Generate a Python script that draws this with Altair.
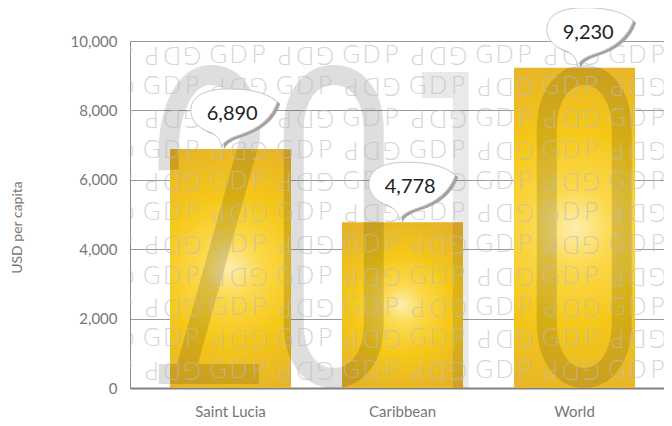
import altair as alt
import pandas as pd

# ---------------- data ----------------
categories = ["Saint Lucia", "Caribbean", "World"]
values = [6890, 4778, 9230]
value_labels = ["6,890", "4,778", "9,230"]
y_ticks = [0, 2000, 4000, 6000, 8000, 10000]
y_title = "USD per capita"

# decorative watermark ("GDP" pattern rows, in y-axis units) and big year
pattern_rows = [9600, 8690, 7780, 6870, 5970, 5060, 4150, 3240, 2330, 1430, 520]
pattern_cols = [-1, 0, 1, 2, 3, 4, 5, 6, 7, 8]
pattern_word = ["G", "D", "P"]
pattern_letter_offsets = [-0.3, 0.0, 0.3]
year_anchor_category = "Caribbean"
year_anchor_value = 0

W, H = 534, 347
ANCHOR_X, ANCHOR_Y = 402.5, 388.0  # pixel position of the year anchor (for shape design)


def rel(path, ax=ANCHOR_X, ay=ANCHOR_Y):
    out = []
    for tok in path.split():
        if "," in tok:
            a, b = tok.split(",")
            out.append(f"{float(a) - ax:.1f},{float(b) - ay:.1f}")
        else:
            out.append(tok)
    return " ".join(out)


digits_stroke_path = rel(
    "M 160,170 C 157,112 175,75 202,75 C 228,75 243,100 241,140 L 176,374 "
    "M 150,374 L 250,374 "
    "M 285,130 C 285,95 302,75 325,75 C 348,75 365,95 365,130 L 365,323 "
    "C 365,358 348,378 325,378 C 302,378 285,358 285,323 Z "
    "M 538,130 C 538,95 555,75 575.5,75 C 596,75 613,95 613,130 L 613,323 "
    "C 613,358 596,378 575.5,378 C 555,378 538,358 538,323 Z"
)
digit_one_path = rel("M 413,72 L 460,72 L 460,388 L 444,388 L 444,98 L 413,98 Z")

bubble_path = ("M -12,-2 C -12,-8 -16,-14 -24,-17 C -38,-22 -44,-32 -42,-42 "
               "C -40,-54 -26,-60 -5,-60 C 15,-60 33,-57 44,-47 "
               "C 39,-32 26,-20 6,-14 C -3,-11 -9,-8 -12,-2 Z")
shadow_path = rel(bubble_path, -3, -2)

df = pd.DataFrame({"cat": categories, "value": values, "label": value_labels})
anchor = pd.DataFrame({"cat": [year_anchor_category], "value": [year_anchor_value]})

letters = []
for k, rv in enumerate(pattern_rows):
    for m in pattern_cols:
        upright = (m + k) % 2 == 1
        for ch, off in zip(pattern_word, pattern_letter_offsets):
            letters.append({"px": m + (off if upright else -off), "row": rv,
                            "ch": ch, "up": upright})
pat = pd.DataFrame(letters)

# ---------------- scales ----------------
def xband():
    return alt.Scale(domain=categories, paddingInner=0.2965,
                     paddingOuter=0.2006, align=0.58, round=False)

def yscale():
    return alt.Scale(domain=[0, 10000], nice=False, zero=True)

xpat = alt.Scale(domain=[-0.6316, 7.3985], nice=False, zero=False)

grad = {
    "gradient": "radial",
    "x1": 0.5, "y1": 0.5, "r1": 0,
    "x2": 0.5, "y2": 0.5, "r2": 0.75,
    "stops": [
        {"offset": 0, "color": "#fdeeb0"},
        {"offset": 0.16, "color": "#fcd94e"},
        {"offset": 0.4, "color": "#f5c818"},
        {"offset": 0.7, "color": "#e7b528"},
        {"offset": 1, "color": "#e0ab2c"},
    ],
}

FONT = "Lato"

bars = alt.Chart(df).mark_bar(color=grad).encode(
    x=alt.X("cat:N", scale=xband(), sort=categories, title=None,
            axis=alt.Axis(domain=True, domainColor="#808080", domainWidth=2,
                          ticks=False, grid=False, labelAngle=0, labelPadding=16,
                          labelFont=FONT, labelFontSize=15, labelColor="#777777")),
    y=alt.Y("value:Q", scale=yscale(), title=y_title,
            axis=alt.Axis(values=y_ticks, format=",.0f", grid=True,
                          gridColor="#9a9a9a", gridWidth=1, domain=True,
                          domainColor="#8a8a8a", domainWidth=1, ticks=False,
                          labelPadding=13, labelFont=FONT, labelFontSize=15,
                          labelColor="#777777", titleFont=FONT, titleFontSize=14,
                          titleFontWeight="normal", titleColor="#777777",
                          titleX=-113, titleY=186, titleBaseline="middle",
                          titleAlign="center")),
)

enc_band = dict(
    x=alt.X("cat:N", scale=xband(), axis=None),
    y=alt.Y("value:Q", scale=yscale(), axis=None),
)

digits = alt.Chart(anchor).mark_point(
    shape=digits_stroke_path, size=4, filled=False, stroke="black",
    strokeOpacity=0.13, strokeWidth=20, opacity=1, strokeCap="butt", clip=True,
).encode(**enc_band)

digit_one = alt.Chart(anchor).mark_point(
    shape=digit_one_path, size=4, filled=True, color="black",
    fillOpacity=0.085, strokeWidth=0, opacity=1, clip=True,
).encode(**enc_band)

text_style = dict(font="DejaVu Sans", fontWeight=200, fontSize=25, color="#bdbdbd",
                  opacity=0.62, align="center", baseline="middle", clip=True)
pat_enc = dict(
    x=alt.X("px:Q", scale=xpat, axis=None),
    y=alt.Y("row:Q", scale=yscale(), axis=None),
    text="ch:N",
)
pat_up = alt.Chart(pat[pat["up"]]).mark_text(**text_style).encode(**pat_enc)
pat_rot = alt.Chart(pat[~pat["up"]]).mark_text(angle=180, **text_style).encode(**pat_enc)

shadow = alt.Chart(df).mark_point(
    shape=shadow_path, size=4, filled=True, color="#a3a3a3",
    strokeWidth=0, opacity=1,
).encode(**enc_band)

bubble = alt.Chart(df).mark_point(
    shape=bubble_path, size=4, filled=True, fill="white", stroke="#c6c6c6",
    strokeWidth=1, opacity=1,
).encode(**enc_band)

labels = alt.Chart(df).mark_text(
    font=FONT, fontSize=20, color="#222222", dy=-35, dx=-1,
    align="center", baseline="middle",
).encode(text="label:N", **enc_band)

chart = alt.layer(
    bars, digits, digit_one, pat_up, pat_rot, shadow, bubble, labels
).resolve_scale(x="independent", y="independent").properties(
    width=W, height=H,
    autosize=alt.AutoSizeParams(type="none"),
    padding={"left": 122, "top": 33, "right": 0, "bottom": 36},
    background="white",
).configure_view(stroke=None)

chart.save("out.html", embed_options={"renderer": "svg", "actions": False})
